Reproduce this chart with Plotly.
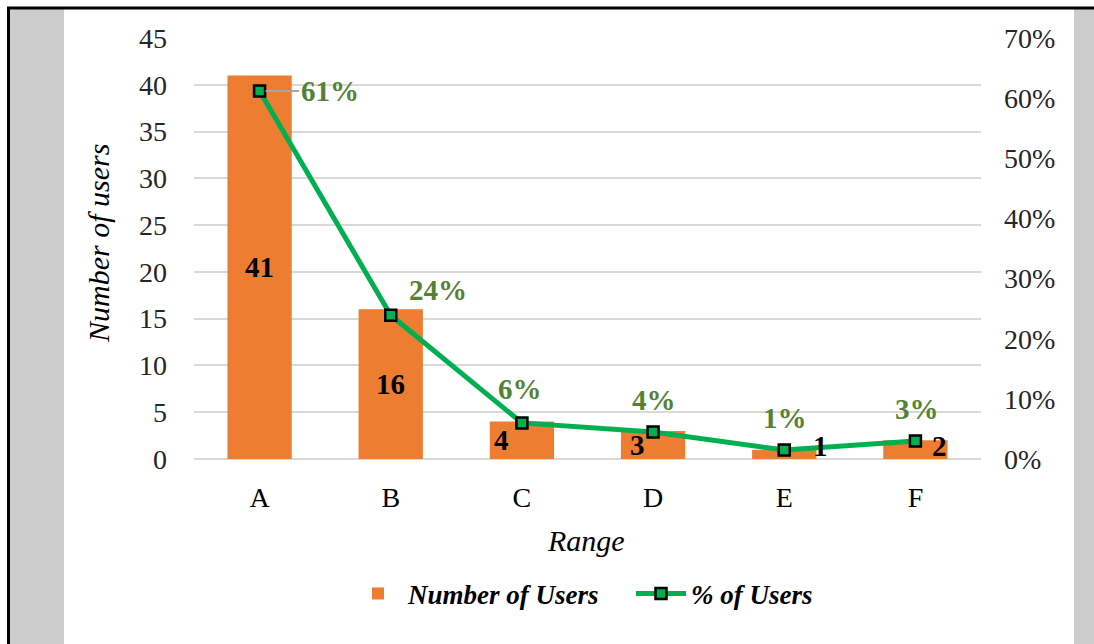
"""Pareto-style bar + line chart: number of users per range."""
import plotly.graph_objects as go

# data
categories = ["A", "B", "C", "D", "E", "F"]
users = [41, 16, 4, 3, 1, 2]
pct_users = [61.2, 23.9, 6.0, 4.5, 1.5, 3.0]
pct_labels = ["61%", "24%", "6%", "4%", "1%", "3%"]

# styling
FONT = "Liberation Serif"
ORANGE = "#ED7D31"
GREEN = "#00B050"
LABEL_GREEN = "#548235"
GRID = "#D9D9D9"

W, H = 1094, 644
PLOT_L, PLOT_R, PLOT_T, PLOT_B = 194, 981, 38, 459


def px_x(px):
    return (px - PLOT_L) / (PLOT_R - PLOT_L)


def px_y(py):
    return (PLOT_B - py) / (PLOT_B - PLOT_T)


fig = go.Figure()

fig.add_trace(go.Bar(
    x=categories,
    y=users,
    name="Number of Users",
    marker=dict(color=ORANGE, line=dict(width=0)),
    width=0.49,
    yaxis="y",
))

fig.add_trace(go.Scatter(
    x=categories,
    y=pct_users,
    name="% of Users",
    mode="lines+markers",
    line=dict(color=GREEN, width=5),
    marker=dict(symbol="square", size=11, color=GREEN,
                line=dict(color="black", width=2.5)),
    yaxis="y2",
))

annotations = []

# bar value labels (some nudged sideways like the original)
bar_xshift = [0, 0, -20, -16, 36, 24]
for cat, val, dx in zip(categories, users, bar_xshift):
    annotations.append(dict(
        x=cat, y=max(val / 2, 1.4), xref="x", yref="y",
        text=str(val), showarrow=False, xshift=dx,
        font=dict(family=FONT, size=29, color="black", weight="bold"),
    ))

# percentage labels
pct_shift = [(0, 0), (47, 25), (-2, 34), (1, 32), (1, 32), (2, 32)]
for i, (cat, val, lab) in enumerate(zip(categories, pct_users, pct_labels)):
    font = dict(family=FONT, size=29, color=LABEL_GREEN, weight="bold")
    if i == 0:
        annotations.append(dict(
            x=cat, y=val, xref="x", yref="y2", text=lab,
            showarrow=True, arrowhead=0, arrowwidth=2, arrowcolor="#A6A6A6",
            ax=70, ay=0, standoff=6, font=font,
        ))
    else:
        dx, dy = pct_shift[i]
        annotations.append(dict(
            x=cat, y=val, xref="x", yref="y2", text=lab,
            showarrow=False, xshift=dx, yshift=dy, font=font,
        ))

# axis titles
annotations.append(dict(
    x=px_x(99), y=px_y(244), xref="paper", yref="paper",
    xanchor="center", yanchor="middle",
    text="Number of users", textangle=-90, showarrow=False,
    font=dict(family=FONT, size=30, color="black", style="italic"),
))
annotations.append(dict(
    x=px_x(586), y=px_y(540), xref="paper", yref="paper",
    xanchor="center", yanchor="middle",
    text="Range", showarrow=False,
    font=dict(family=FONT, size=30, color="black", style="italic"),
))

# frame around the chart area (gray side strips and black border)
shapes = [
    dict(type="rect", xref="paper", yref="paper",
         x0=px_x(10), x1=px_x(64), y0=px_y(9), y1=px_y(H + 5),
         fillcolor="#CCCCCC", line=dict(width=0), layer="below"),
    dict(type="rect", xref="paper", yref="paper",
         x0=px_x(1074), x1=px_x(W + 5), y0=px_y(9), y1=px_y(H + 5),
         fillcolor="#CCCCCC", line=dict(width=0), layer="below"),
    dict(type="line", xref="paper", yref="paper",
         x0=px_x(7), x1=px_x(W + 5), y0=px_y(8), y1=px_y(8),
         line=dict(color="black", width=3)),
    dict(type="line", xref="paper", yref="paper",
         x0=px_x(8.5), x1=px_x(8.5), y0=px_y(7), y1=px_y(H + 5),
         line=dict(color="black", width=3)),
]

fig.update_layout(
    width=W,
    height=H,
    autosize=False,
    margin=dict(l=PLOT_L, r=W - PLOT_R, t=PLOT_T, b=H - PLOT_B, pad=0),
    paper_bgcolor="white",
    plot_bgcolor="white",
    font=dict(family=FONT, size=28, color="#262626"),
    showlegend=True,
    legend=dict(
        orientation="h",
        x=px_x(631), xanchor="center",
        y=px_y(594), yanchor="middle",
        font=dict(family=FONT, size=27, color="black",
                  weight="bold", style="italic"),
        itemwidth=50,
        entrywidth=218,
        bgcolor="rgba(0,0,0,0)",
    ),
    xaxis=dict(
        type="category",
        range=[-0.5, 5.5],
        showgrid=False,
        showline=False,
        zeroline=False,
        ticks="",
        ticklabelstandoff=19,
        tickfont=dict(family=FONT, size=28, color="black"),
    ),
    yaxis=dict(
        range=[0, 45],
        dtick=5,
        showgrid=True,
        gridcolor=GRID,
        gridwidth=2,
        zeroline=True,
        zerolinecolor=GRID,
        zerolinewidth=2,
        showline=False,
        ticks="",
        ticklabelstandoff=26,
        tickfont=dict(family=FONT, size=28, color="#262626"),
    ),
    yaxis2=dict(
        range=[0, 70],
        dtick=10,
        ticksuffix="%",
        overlaying="y",
        side="right",
        showgrid=False,
        zeroline=False,
        showline=False,
        ticks="",
        ticklabelstandoff=22,
        tickfont=dict(family=FONT, size=28, color="#262626"),
    ),
    bargap=0.51,
    annotations=annotations,
    shapes=shapes,
)

fig.write_html(
    "out.html",
    config={"displayModeBar": False},
    post_script="document.body.style.margin='0px';",
)
